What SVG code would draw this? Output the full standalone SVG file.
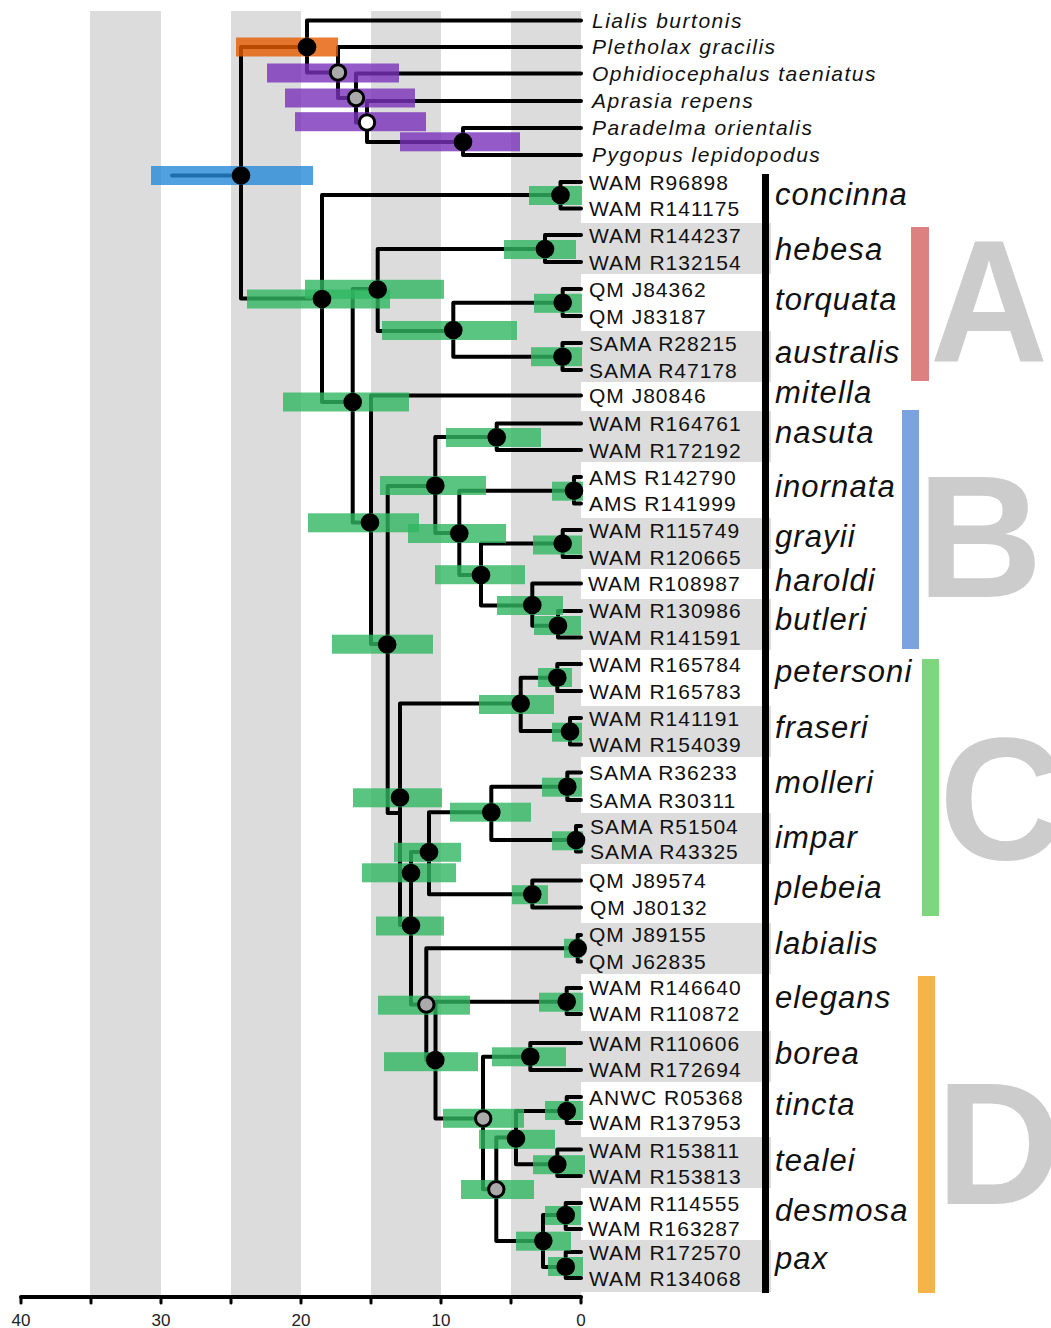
<svg xmlns="http://www.w3.org/2000/svg" width="1051" height="1328" viewBox="0 0 1051 1328">
<style>
.band{fill:#dcdcdc}
.e{fill:none;stroke:#000;stroke-width:4;stroke-linecap:round;stroke-linejoin:round}
.g{fill:#31b762;opacity:.8}
.p{fill:#7831ba;opacity:.8}
.o{fill:#e55b01;opacity:.8}
.b{fill:#258ad9;opacity:.8}
.n{fill:#000}
.gn{fill:#aaa;stroke:#000;stroke-width:3}
.wn{fill:#fff;stroke:#000;stroke-width:3}
.tip{font-family:"Liberation Sans",Arial,sans-serif;font-size:21px;letter-spacing:1px;fill:#111}
.og{font-family:"Liberation Sans",Arial,sans-serif;font-size:21px;font-style:italic;letter-spacing:1.5px;fill:#111}
.sp{font-family:"Liberation Sans",Arial,sans-serif;font-size:31px;font-style:italic;letter-spacing:1.1px;fill:#111}
.cl{font-family:"Liberation Sans",Arial,sans-serif;font-size:174px;font-weight:bold;fill:#ccc}
.ax{font-family:"Liberation Sans",Arial,sans-serif;font-size:17px;fill:#222;text-anchor:middle}
</style>
<rect width="1051" height="1328" fill="#fff"/>
<g id="time-bands">
<rect class="band" x="90" y="11" width="71" height="1284"/>
<rect class="band" x="231" y="11" width="70" height="1284"/>
<rect class="band" x="371" y="11" width="70" height="1284"/>
<rect class="band" x="511" y="11" width="70" height="1284"/>
</g>
<g id="row-bands">
<rect class="band" x="581" y="223" width="190" height="51"/>
<rect class="band" x="581" y="331" width="190" height="51"/>
<rect class="band" x="581" y="411" width="190" height="51"/>
<rect class="band" x="581" y="518" width="190" height="51"/>
<rect class="band" x="581" y="599" width="190" height="51"/>
<rect class="band" x="581" y="706" width="190" height="51"/>
<rect class="band" x="581" y="813" width="190" height="51"/>
<rect class="band" x="581" y="923" width="190" height="51"/>
<rect class="band" x="581" y="1031" width="190" height="51"/>
<rect class="band" x="581" y="1137" width="190" height="51"/>
<rect class="band" x="581" y="1240" width="190" height="52"/>
</g>
<g id="connectors">
<path class="e" d="M172,175.5 H241"/>
<path class="e" d="M241,175.5 V47 H307"/>
<path class="e" d="M241,175.5 V298.5 H322"/>
<path class="e" d="M307,47 V20.5 H581"/>
<path class="e" d="M307,47 V72.5 H338"/>
<path class="e" d="M338,72.5 V47 H581"/>
<path class="e" d="M338,72.5 V98 H356"/>
<path class="e" d="M356,98 V73.5 H581"/>
<path class="e" d="M356,98 V122.5 H367"/>
<path class="e" d="M367,122.5 V101 H581"/>
<path class="e" d="M367,122.5 V142 H463"/>
<path class="e" d="M463,142 V128 H581"/>
<path class="e" d="M463,142 V155 H581"/>
<path class="e" d="M322,298.5 V195 H560.5"/>
<path class="e" d="M322,298.5 V402 H352.7"/>
<path class="e" d="M352.7,402 V289 H377.7"/>
<path class="e" d="M352.7,402 V522.5 H371"/>
<path class="e" d="M377.7,289 V249 H545"/>
<path class="e" d="M377.7,289 V331 H453.3"/>
<path class="e" d="M453.3,330 V302.7 H562.7"/>
<path class="e" d="M453.3,330 V356.7 H562.5"/>
<path class="e" d="M371,522.5 V395.5 H581"/>
<path class="e" d="M371,522.5 V644 H387.7"/>
<path class="e" d="M387.7,644 V486 H435.3"/>
<path class="e" d="M387.7,644 V813 H400"/>
<path class="e" d="M435.3,486 V437 H496.7"/>
<path class="e" d="M435.3,486 V533 H459.3"/>
<path class="e" d="M459.3,533 V490.7 H574"/>
<path class="e" d="M459.3,533 V575 H481"/>
<path class="e" d="M481,575 V543.5 H562.7"/>
<path class="e" d="M481,575 V605.5 H532.3"/>
<path class="e" d="M532.3,605.5 V583.5 H581"/>
<path class="e" d="M532.3,605.5 V625.7 H558"/>
<path class="e" d="M400,813 V703.5 H520.7"/>
<path class="e" d="M400,813 V925 H411"/>
<path class="e" d="M520.7,703.5 V677.7 H557.3"/>
<path class="e" d="M520.7,703.5 V731 H570"/>
<path class="e" d="M411,925 V852 H429"/>
<path class="e" d="M411,925 V1004.5 H426.3"/>
<path class="e" d="M429,852 V812.3 H491.3"/>
<path class="e" d="M429,852 V894.3 H532.3"/>
<path class="e" d="M491.3,812.3 V786.7 H567.3"/>
<path class="e" d="M491.3,812.3 V840 H576"/>
<path class="e" d="M426.3,1004.5 V948.3 H577.7"/>
<path class="e" d="M426.3,1004.5 V1060 H435.5"/>
<path class="e" d="M435.5,1060 V1001.7 H566.7"/>
<path class="e" d="M435.5,1060 V1118.5 H483"/>
<path class="e" d="M483,1118.5 V1056.7 H530.3"/>
<path class="e" d="M483,1118.5 V1189.3 H496.3"/>
<path class="e" d="M496.3,1189.3 V1137.5 H516"/>
<path class="e" d="M496.3,1189.3 V1241 H543"/>
<path class="e" d="M516,1138 V1111 H566.7"/>
<path class="e" d="M516,1138 V1164.3 H557.3"/>
<path class="e" d="M543,1241 V1215 H565.7"/>
<path class="e" d="M543,1241 V1267 H565.7"/>
<path class="e" d="M560.5,195 V182 H581 M560.5,195 V208.5 H581"/>
<path class="e" d="M545,249 V235 H581 M545,249 V262 H581"/>
<path class="e" d="M562.7,302.7 V289 H581 M562.7,302.7 V316 H581"/>
<path class="e" d="M562.5,356.7 V343 H581 M562.5,356.7 V370 H581"/>
<path class="e" d="M496.7,437 V423.5 H581 M496.7,437 V450 H581"/>
<path class="e" d="M574,490.7 V477 H581 M574,490.7 V503.5 H581"/>
<path class="e" d="M562.7,543.5 V530 H581 M562.7,543.5 V557 H581"/>
<path class="e" d="M558,625.7 V611 H581 M558,625.7 V637.5 H581"/>
<path class="e" d="M557.3,677.7 V664 H581 M557.3,677.7 V691 H581"/>
<path class="e" d="M570,731 V718 H581 M570,731 V744.5 H581"/>
<path class="e" d="M567.3,786.7 V772.5 H581 M567.3,786.7 V800 H581"/>
<path class="e" d="M576,840 V826 H581 M576,840 V851.5 H581"/>
<path class="e" d="M532.3,894.3 V880.5 H581 M532.3,894.3 V907.5 H581"/>
<path class="e" d="M577.7,948.3 V935 H581 M577.7,948.3 V961.5 H581"/>
<path class="e" d="M566.7,1001.7 V988 H581 M566.7,1001.7 V1014 H581"/>
<path class="e" d="M530.3,1056.7 V1043 H581 M530.3,1056.7 V1070 H581"/>
<path class="e" d="M566.7,1111 V1097 H581 M566.7,1111 V1123 H581"/>
<path class="e" d="M557.3,1164.3 V1149.5 H581 M557.3,1164.3 V1176 H581"/>
<path class="e" d="M565.7,1215 V1203 H581 M565.7,1215 V1229 H581"/>
<path class="e" d="M565.7,1266.7 V1252 H581 M565.7,1266.7 V1278 H581"/>
</g>
<g id="intervals">
<rect class="o" x="236" y="37.5" width="102" height="19"/>
<rect class="p" x="267" y="63.5" width="132" height="19"/>
<rect class="p" x="285" y="88.5" width="130" height="19"/>
<rect class="p" x="295" y="112.2" width="131" height="19"/>
<rect class="p" x="400" y="132.3" width="120" height="19"/>
<rect class="b" x="151" y="166" width="162" height="19"/>
<rect class="g" x="529" y="186" width="53" height="19"/>
<rect class="g" x="247" y="289.5" width="143" height="19"/>
<rect class="g" x="305" y="279.8" width="139" height="19"/>
<rect class="g" x="504" y="240" width="72" height="19"/>
<rect class="g" x="534" y="293.8" width="48" height="19"/>
<rect class="g" x="382" y="321" width="135" height="19"/>
<rect class="g" x="531" y="347.2" width="51" height="19"/>
<rect class="g" x="283" y="392.5" width="126" height="19"/>
<rect class="g" x="446" y="428" width="95" height="19"/>
<rect class="g" x="380" y="476" width="106" height="19"/>
<rect class="g" x="552" y="481.7" width="31" height="19"/>
<rect class="g" x="308" y="513.3" width="111" height="19"/>
<rect class="g" x="408" y="524" width="98" height="19"/>
<rect class="g" x="533" y="535.5" width="49" height="19"/>
<rect class="g" x="435" y="565.2" width="90" height="19"/>
<rect class="g" x="497" y="596" width="66" height="19"/>
<rect class="g" x="534" y="616" width="47" height="19"/>
<rect class="g" x="332" y="634.7" width="101" height="19"/>
<rect class="g" x="538" y="668" width="34" height="19"/>
<rect class="g" x="479" y="695" width="75" height="19"/>
<rect class="g" x="552" y="722.7" width="30" height="19"/>
<rect class="g" x="542" y="777.7" width="40" height="19"/>
<rect class="g" x="353" y="788.3" width="89" height="19"/>
<rect class="g" x="450" y="802.7" width="81" height="19"/>
<rect class="g" x="552" y="831.3" width="31" height="19"/>
<rect class="g" x="394" y="842.8" width="67" height="19"/>
<rect class="g" x="362" y="863.3" width="94" height="19"/>
<rect class="g" x="512" y="885.2" width="36" height="19"/>
<rect class="g" x="376" y="916.5" width="68" height="19"/>
<rect class="g" x="564" y="938.8" width="18" height="19"/>
<rect class="g" x="378" y="995.7" width="92" height="19"/>
<rect class="g" x="539" y="992.7" width="44" height="19"/>
<rect class="g" x="492" y="1047.3" width="74" height="19"/>
<rect class="g" x="384" y="1052.2" width="94" height="19"/>
<rect class="g" x="443" y="1108.8" width="81" height="19"/>
<rect class="g" x="545" y="1101" width="38" height="19"/>
<rect class="g" x="479" y="1129.8" width="76" height="19"/>
<rect class="g" x="533" y="1155.2" width="52" height="19"/>
<rect class="g" x="461" y="1180" width="73" height="19"/>
<rect class="g" x="545" y="1206" width="36" height="19"/>
<rect class="g" x="516" y="1231.7" width="55" height="19"/>
<rect class="g" x="548" y="1257" width="35" height="19"/>
</g>
<g id="nodes">
<g id="n-O1"><circle class="n" cx="307" cy="47" r="9.3"/></g>
<g id="n-O2"><circle class="gn" cx="338" cy="72.5" r="7.7"/></g>
<g id="n-O3"><circle class="gn" cx="356" cy="98" r="7.7"/></g>
<g id="n-O4"><circle class="wn" cx="367" cy="122.5" r="7.7"/></g>
<g id="n-O5"><circle class="n" cx="463" cy="142" r="9.3"/></g>
<g id="n-root"><circle class="n" cx="241" cy="175.5" r="9.3"/></g>
<g id="n-I1"><circle class="n" cx="322" cy="299" r="9.3"/></g>
<g id="n-H"><circle class="n" cx="377.7" cy="289.5" r="9.3"/></g>
<g id="n-X"><circle class="n" cx="352.7" cy="402" r="9.3"/></g>
<g id="n-TA"><circle class="n" cx="453.3" cy="330" r="9.3"/></g>
<g id="n-Y"><circle class="n" cx="370" cy="522.5" r="9.3"/></g>
<g id="n-Z"><circle class="n" cx="387.2" cy="644.5" r="9.3"/></g>
<g id="n-B0"><circle class="n" cx="435.3" cy="485.7" r="9.3"/></g>
<g id="n-B1"><circle class="n" cx="459.3" cy="533.3" r="9.3"/></g>
<g id="n-B2"><circle class="n" cx="481" cy="575" r="9.3"/></g>
<g id="n-B3"><circle class="n" cx="532.3" cy="605" r="9.3"/></g>
<g id="n-C0"><circle class="n" cx="400" cy="797.5" r="9.3"/></g>
<g id="n-PF"><circle class="n" cx="520.7" cy="703.5" r="9.3"/></g>
<g id="n-MI"><circle class="n" cx="491.3" cy="812.3" r="9.3"/></g>
<g id="n-Na"><circle class="n" cx="429" cy="852" r="9.3"/></g>
<g id="n-Nb"><circle class="n" cx="411" cy="873" r="9.3"/></g>
<g id="n-Nc"><circle class="n" cx="411" cy="925.5" r="9.3"/></g>
<g id="n-G1"><circle class="gn" cx="426.3" cy="1004.5" r="7.7"/></g>
<g id="n-Nd"><circle class="n" cx="435.3" cy="1060" r="9.3"/></g>
<g id="n-G2"><circle class="gn" cx="483.2" cy="1118.5" r="7.7"/></g>
<g id="n-Nt"><circle class="n" cx="516" cy="1138.5" r="9.3"/></g>
<g id="n-G3"><circle class="gn" cx="496.3" cy="1189.3" r="7.7"/></g>
<g id="n-PD"><circle class="n" cx="543.3" cy="1240.8" r="9.3"/></g>
<g id="n-concinna"><circle class="n" cx="560.5" cy="195" r="9.3"/></g>
<g id="n-hebesa"><circle class="n" cx="545" cy="249" r="9.3"/></g>
<g id="n-torquata"><circle class="n" cx="562.7" cy="302.7" r="9.3"/></g>
<g id="n-australis"><circle class="n" cx="562.5" cy="356.7" r="9.3"/></g>
<g id="n-nasuta"><circle class="n" cx="496.7" cy="437.3" r="9.3"/></g>
<g id="n-inornata"><circle class="n" cx="574" cy="490.7" r="9.3"/></g>
<g id="n-grayii"><circle class="n" cx="562.7" cy="543.5" r="9.3"/></g>
<g id="n-butleri"><circle class="n" cx="558" cy="625.7" r="9.3"/></g>
<g id="n-petersoni"><circle class="n" cx="557.3" cy="677.7" r="9.3"/></g>
<g id="n-fraseri"><circle class="n" cx="570" cy="731.5" r="9.3"/></g>
<g id="n-molleri"><circle class="n" cx="567.3" cy="786.7" r="9.3"/></g>
<g id="n-impar"><circle class="n" cx="576" cy="840" r="9.3"/></g>
<g id="n-plebeia"><circle class="n" cx="532.3" cy="894.3" r="9.3"/></g>
<g id="n-labialis"><circle class="n" cx="577.7" cy="948.3" r="9.3"/></g>
<g id="n-elegans"><circle class="n" cx="566.7" cy="1001.7" r="9.3"/></g>
<g id="n-borea"><circle class="n" cx="530.3" cy="1056.7" r="9.3"/></g>
<g id="n-tincta"><circle class="n" cx="566.7" cy="1111" r="9.3"/></g>
<g id="n-tealei"><circle class="n" cx="557.3" cy="1164.3" r="9.3"/></g>
<g id="n-desmosa"><circle class="n" cx="565.7" cy="1215" r="9.3"/></g>
<g id="n-pax"><circle class="n" cx="565.7" cy="1266.7" r="9.3"/></g>
</g>
<g id="tips">
<text class="og" x="592" y="27.5">Lialis burtonis</text>
<text class="og" x="592" y="54">Pletholax gracilis</text>
<text class="og" x="592" y="80.5">Ophidiocephalus taeniatus</text>
<text class="og" x="592" y="108">Aprasia repens</text>
<text class="og" x="592" y="135">Paradelma orientalis</text>
<text class="og" x="592" y="162">Pygopus lepidopodus</text>
<text class="tip" x="589" y="189.5">WAM R96898</text>
<text class="tip" x="589" y="216">WAM R141175</text>
<text class="tip" x="589" y="242.5">WAM R144237</text>
<text class="tip" x="589" y="269.5">WAM R132154</text>
<text class="tip" x="589" y="296.5">QM J84362</text>
<text class="tip" x="589" y="323.5">QM J83187</text>
<text class="tip" x="589" y="350.5">SAMA R28215</text>
<text class="tip" x="589" y="377.5">SAMA R47178</text>
<text class="tip" x="589" y="403">QM J80846</text>
<text class="tip" x="589" y="431">WAM R164761</text>
<text class="tip" x="589" y="457.5">WAM R172192</text>
<text class="tip" x="589" y="484.5">AMS R142790</text>
<text class="tip" x="589" y="511">AMS R141999</text>
<text class="tip" x="589" y="537.5">WAM R115749</text>
<text class="tip" x="589" y="564.5">WAM R120665</text>
<text class="tip" x="588" y="591">WAM R108987</text>
<text class="tip" x="589" y="618">WAM R130986</text>
<text class="tip" x="589" y="645">WAM R141591</text>
<text class="tip" x="589" y="671.5">WAM R165784</text>
<text class="tip" x="589" y="698.5">WAM R165783</text>
<text class="tip" x="589" y="725.5">WAM R141191</text>
<text class="tip" x="589" y="752">WAM R154039</text>
<text class="tip" x="589" y="780">SAMA R36233</text>
<text class="tip" x="589" y="807.5">SAMA R30311</text>
<text class="tip" x="590" y="833.5">SAMA R51504</text>
<text class="tip" x="590" y="858.5">SAMA R43325</text>
<text class="tip" x="589" y="888">QM J89574</text>
<text class="tip" x="590" y="915">QM J80132</text>
<text class="tip" x="589" y="942">QM J89155</text>
<text class="tip" x="589" y="969">QM J62835</text>
<text class="tip" x="589" y="995">WAM R146640</text>
<text class="tip" x="589" y="1020.5">WAM R110872</text>
<text class="tip" x="589" y="1050.5">WAM R110606</text>
<text class="tip" x="589" y="1077">WAM R172694</text>
<text class="tip" x="589" y="1104.5">ANWC R05368</text>
<text class="tip" x="589" y="1130">WAM R137953</text>
<text class="tip" x="589" y="1157.5">WAM R153811</text>
<text class="tip" x="589" y="1183.5">WAM R153813</text>
<text class="tip" x="589" y="1210.5">WAM R114555</text>
<text class="tip" x="588" y="1236">WAM R163287</text>
<text class="tip" x="589" y="1260">WAM R172570</text>
<text class="tip" x="589" y="1285.5">WAM R134068</text>
</g>
<g id="species">
<rect x="762" y="174" width="7" height="1119" fill="#000"/>
<text class="sp" x="775" y="205">concinna</text>
<text class="sp" x="775" y="260">hebesa</text>
<text class="sp" x="775" y="310">torquata</text>
<text class="sp" x="775" y="363">australis</text>
<text class="sp" x="775" y="403">mitella</text>
<text class="sp" x="775" y="443">nasuta</text>
<text class="sp" x="775" y="497">inornata</text>
<text class="sp" x="775" y="547">grayii</text>
<text class="sp" x="775" y="591">haroldi</text>
<text class="sp" x="775" y="630">butleri</text>
<text class="sp" x="775" y="682">petersoni</text>
<text class="sp" x="775" y="738">fraseri</text>
<text class="sp" x="775" y="793">molleri</text>
<text class="sp" x="775" y="848">impar</text>
<text class="sp" x="775" y="898">plebeia</text>
<text class="sp" x="775" y="954">labialis</text>
<text class="sp" x="775" y="1008">elegans</text>
<text class="sp" x="775" y="1064">borea</text>
<text class="sp" x="775" y="1115">tincta</text>
<text class="sp" x="775" y="1171">tealei</text>
<text class="sp" x="775" y="1221">desmosa</text>
<text class="sp" x="775" y="1269">pax</text>
</g>
<g id="clades">
<rect x="911" y="227" width="18" height="154" fill="#dd8080"/>
<rect x="902" y="410" width="17" height="239" fill="#7ba3e0"/>
<rect x="922" y="659" width="17" height="257" fill="#7ed67e"/>
<rect x="918" y="976" width="17" height="317" fill="#f4b447"/>
<text class="cl" x="930" y="362" textLength="118" lengthAdjust="spacingAndGlyphs">A</text>
<text class="cl" x="917" y="597">B</text>
<text class="cl" x="939" y="859">C</text>
<text class="cl" x="936" y="1204">D</text>
</g>
<g id="axis">
<path d="M21,1297 H581" stroke="#000" stroke-width="4" fill="none" stroke-linecap="round"/>
<path d="M21,1297 V1303 M91,1297 V1303 M161,1297 V1303 M231,1297 V1303 M301,1297 V1303 M371,1297 V1303 M441,1297 V1303 M511,1297 V1303 M581,1297 V1303" stroke="#000" stroke-width="3" stroke-linecap="round"/>
<text class="ax" x="21" y="1326">40</text>
<text class="ax" x="161" y="1326">30</text>
<text class="ax" x="301" y="1326">20</text>
<text class="ax" x="441" y="1326">10</text>
<text class="ax" x="581" y="1326">0</text>
</g>
</svg>
